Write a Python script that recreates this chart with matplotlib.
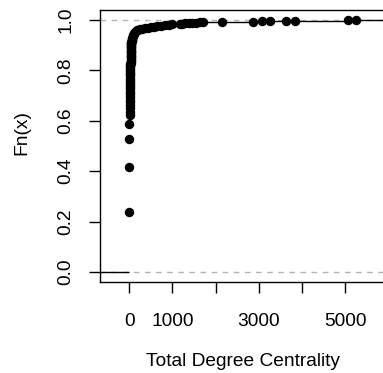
import numpy as np
import matplotlib
matplotlib.use("Agg")
import matplotlib.pyplot as plt

plt.rcParams['font.family'] = ['Liberation Sans', 'DejaVu Sans']

# Distinct observed values of total degree centrality and the ECDF level at each
degree_values = [1, 2, 3, 4, 5, 6, 7, 8, 9, 10, 11, 12, 13, 14, 15, 16, 17, 18, 19, 20,
                 21, 22, 23, 24, 25, 26, 27, 28, 29, 30, 31, 32, 33, 34, 35, 36, 37, 38,
                 39, 40, 42, 44, 46, 48, 50, 55, 60, 65, 70, 80, 90, 100, 115, 130, 150,
                 180, 210, 250, 300, 365, 430, 500, 580, 650, 730, 820, 910, 1000,
                 1170, 1230, 1300, 1380, 1450, 1550, 1650, 1720,
                 2160, 2870, 3065, 3257, 3627, 3836, 5070, 5264]
ecdf_levels = [0.236, 0.417, 0.527, 0.587, 0.622, 0.636, 0.649, 0.661, 0.673, 0.684,
               0.695, 0.705, 0.715, 0.725, 0.734, 0.743, 0.752, 0.760, 0.768, 0.776,
               0.784, 0.791, 0.798, 0.805, 0.812, 0.818, 0.824, 0.830, 0.836, 0.842,
               0.848, 0.853, 0.858, 0.863, 0.868, 0.873, 0.878, 0.883, 0.888, 0.892,
               0.896, 0.900, 0.904, 0.908, 0.912, 0.917, 0.922, 0.926, 0.930, 0.935,
               0.940, 0.944, 0.948, 0.952, 0.955, 0.959, 0.962, 0.964,
               0.966, 0.968, 0.970, 0.972, 0.974, 0.976, 0.978, 0.980, 0.982, 0.984,
               0.985, 0.986, 0.987, 0.988, 0.989, 0.990, 0.991, 0.992,
               0.993, 0.994, 0.995, 0.996, 0.997, 0.998, 0.999, 1.000]
x_ticks = [0, 1000, 2000, 3000, 4000, 5000]
x_tick_labels = ['0', '1000', '', '3000', '', '5000']
y_ticks = [0.0, 0.2, 0.4, 0.6, 0.8, 1.0]
y_tick_labels = ['0.0', '0.2', '0.4', '0.6', '0.8', '1.0']

W, H, DPI = 383, 373, 100
fig = plt.figure(figsize=(W / DPI, H / DPI), dpi=DPI)
L, R, T, B = 100, 390, 10, 282
ax = fig.add_axes([L / W, 1 - B / H, (R - L) / W, (B - T) / H])

kn = np.array(degree_values, dtype=float)
lv = np.array(ecdf_levels, dtype=float)
xlim = (-679, 6043)

# dashed reference lines
for yv in (0, 1):
    ax.axhline(yv, color='#B3B3B3', lw=1.0, ls=(0, (4, 4)), zorder=1)

# horizontal step segments
ti = np.concatenate([[xlim[0] - 1000], kn, [xlim[1] + 1000]])
yy = np.concatenate([[0.0], lv])
for i in range(len(yy)):
    ax.plot([ti[i], ti[i + 1]], [yy[i], yy[i]], color='black', lw=1.0, zorder=2,
            solid_capstyle='butt')
ax.plot(kn, lv, 'o', color='black', markersize=6.8, markeredgewidth=0, zorder=3)

ax.set_xlim(*xlim)
ax.set_ylim(-0.04, 1.04)
ax.set_xticks(x_ticks)
ax.set_xticklabels(x_tick_labels)
ax.set_yticks(y_ticks)
ax.set_yticklabels(y_tick_labels, rotation=90, va='center')
FS = 13.8
ax.tick_params(direction='out', length=7.6, width=1.0, labelsize=FS, color='black')
ax.tick_params(axis='x', pad=14.5)
ax.tick_params(axis='y', pad=11)
for s in ax.spines.values():
    s.set_linewidth(1.0)
    s.set_color('black')

ax.set_xlabel('Total Degree Centrality', fontsize=FS)
ax.xaxis.set_label_coords((243 - L) / (R - L), (B - 362) / (B - T))
ax.xaxis.label.set_va('center')
ax.set_ylabel('Fn(x)', fontsize=FS)
ax.yaxis.set_label_coords((22 - L) / (R - L), (B - 133) / (B - T))
ax.yaxis.label.set_va('center')

fig.savefig('out.png', dpi=DPI)
